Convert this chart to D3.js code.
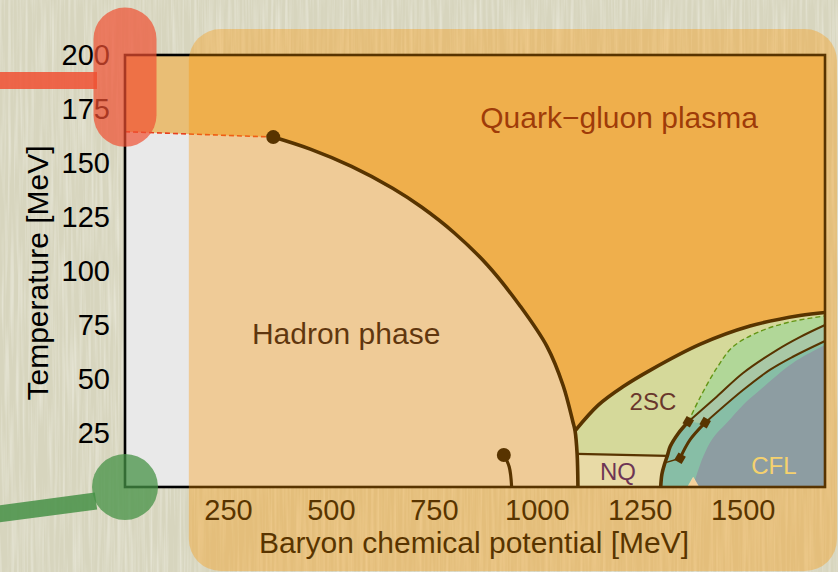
<!DOCTYPE html>
<html>
<head>
<meta charset="utf-8">
<script src="https://cdn.jsdelivr.net/npm/d3@7"></script>
<style>
  html, body { margin: 0; padding: 0; background: #d8d6c0; }
  svg { display: block; }
</style>
</head>
<body>
<svg id="chart" width="838" height="572"></svg>
<script>
// ---- axis ticks ----
const muTicks = [250, 500, 750, 1000, 1250, 1500];
const tempTicks = [25, 50, 75, 100, 125, 150, 175, 200];

// ---- phase boundaries, [mu (MeV), T (MeV)] ----
const crossover = [[0, 164.5], [360, 162]];
const criticalPoint = [360, 162];
const hadronBoundary = [[360, 162], [450, 156.4], [550, 148.4], [650, 138.3], [720, 129.6],
  [800, 117.6], [880, 102.8], [960, 83.7], [1025, 65], [1064, 47], [1088, 30],
  [1093, 26], [1098, 15.3], [1100, 0]];
const liquidGas = [[920, 14.8], [933, 9.4], [939, 0]];
const nuclearEndpoint = [920, 14.8];
const outerCSC = [[1093, 26], [1150, 38], [1210, 46.5], [1275, 54], [1396, 66],
  [1518, 74.5], [1639, 79.4], [1700, 80.8]];
const nqTop = [[1098, 15.3], [1317, 14.4]];
const innerCSC = [[1301, 0], [1304, 6], [1311, 11], [1317, 14.4], [1324, 18.7],
  [1344, 24.9], [1368, 30.2]];
const gapless = [[1368, 30.2], [1396, 41.2], [1437, 55], [1477, 65], [1542, 72],
  [1615, 76.4], [1700, 79.2]];
const lineA = [[1368, 30.2], [1437, 41.8], [1501, 52.8], [1583, 63.4], [1639, 69.4], [1700, 75]];
const lineB = [[1409, 29.8], [1501, 44.9], [1566, 54.2], [1622, 60.3], [1700, 67.6]];
const lineBLower = [[1409, 29.8], [1372, 21.8], [1348, 13.3]];
const lineBLink = [[1348, 13.3], [1311, 11.2]];
const cflEdge = [[1379, 0], [1404, 14], [1428, 22.7], [1461, 29.6], [1501, 38], [1542, 44.9],
  [1622, 57.4], [1700, 65.7]];
const junctions = [[1368, 30.2], [1409, 29.8], [1348, 13.3]];
const cflOnset = [1380, 0];

// ---- region labels ----
const regionLabels = [
  { text: "Quark\u2212gluon plasma", mu: 1200, T: 166, kind: "qgp" },
  { text: "Hadron phase", mu: 537, T: 66, kind: "hadron" },
  { text: "2SC", mu: 1282, T: 35.5, kind: "tsc" },
  { text: "NQ", mu: 1197, T: 3.4, kind: "nq" },
  { text: "CFL", mu: 1576, T: 6, kind: "cfl" }
];

// ---- layout ----
const W = 838, H = 572;
const frame = { left: 125, right: 825, top: 55, bottom: 487 };
const x = d3.scaleLinear().domain([0, 1700]).range([frame.left, frame.right]);
const y = d3.scaleLinear().domain([0, 200]).range([frame.bottom, frame.top]);

// ink colours sit beneath a translucent amber highlight
const HIGHLIGHT = "rgba(253,150,0,0.35)";
const colors = {
  hadron: "#e9e9e9",
  qgp: "#e9be75",
  tsc: "#c1fded",
  nq: "#ddffff",
  green: "#89fbea",
  mid: "#7de3ff",
  teal: "#49d5ff",
  cfl: "#52a2f9",
  ink: "#000000",
  crossover: "#e8401e",
  gapless: "#129620",
  labels: { qgp: "#6e0c0f", hadron: "#0c0418", tsc: "#190445", nq: "#210083", cfl: "#f1f2a9" }
};

const svg = d3.select("#chart");

// paper background with faint vertical grain
const defs = svg.append("defs");
const grain = defs.append("filter").attr("id", "grain").attr("x", 0).attr("y", 0)
  .attr("width", 1).attr("height", 1);
grain.append("feTurbulence").attr("type", "fractalNoise")
  .attr("baseFrequency", "0.35 0.012").attr("numOctaves", 2).attr("seed", 4);
grain.append("feColorMatrix").attr("type", "matrix")
  .attr("values", "0 0 0 0 1  0 0 0 0 1  0 0 0 0 0.97  0.8 0 0 0 -0.32");
svg.append("rect").attr("width", W).attr("height", H).attr("fill", "#d7d5be");
svg.append("rect").attr("width", W).attr("height", H).attr("filter", "url(#grain)");

// path helpers
const smooth = d3.line().x(d => x(d[0])).y(d => y(d[1])).curve(d3.curveCatmullRom.alpha(0.5));
const straight = d3.line().x(d => x(d[0])).y(d => y(d[1]));
const rev = a => a.slice().reverse();
function region(...parts) {
  return parts.map((p, i) => {
    const s = (p.curved ? smooth : straight)(p.pts);
    return i ? s.replace(/^M/, "L") : s;
  }).join("") + "Z";
}
const C = pts => ({ pts, curved: true });
const S = pts => ({ pts, curved: false });

const plot = svg.append("g");

// quark-gluon plasma fills the frame, other phases are laid over it
plot.append("rect").attr("x", x(0)).attr("y", y(200))
  .attr("width", x(1700) - x(0)).attr("height", y(0) - y(200)).attr("fill", colors.qgp);

plot.append("path").attr("fill", colors.hadron)
  .attr("d", region(S(crossover), C(hadronBoundary), S([[1100, 0], [0, 0]])));

const last = outerCSC[outerCSC.length - 1];
plot.append("path").attr("fill", colors.tsc)
  .attr("d", region(C(outerCSC), S([last, [1700, 0], [1100, 0]]), C(rev(hadronBoundary.slice(-3)))));

plot.append("path").attr("fill", colors.nq)
  .attr("d", region(S(nqTop), C(rev(innerCSC.slice(0, 4))), S([[1301, 0], [1100, 0]])));

plot.append("path").attr("fill", colors.teal)
  .attr("d", region(C(innerCSC), S([junctions[0], junctions[1]]), C(lineB),
    S([lineB[lineB.length - 1], [1700, 0]])));

plot.append("path").attr("fill", colors.mid)
  .attr("d", region(C(lineA), S([lineA[lineA.length - 1], lineB[lineB.length - 1]]), C(rev(lineB))));

plot.append("path").attr("fill", colors.green)
  .attr("d", region(C(gapless), S([gapless[gapless.length - 1], lineA[lineA.length - 1]]), C(rev(lineA))));

plot.append("path").attr("fill", colors.cfl)
  .attr("d", region(C(cflEdge), S([cflEdge[cflEdge.length - 1], [1700, 0]])));

// boundary lines
const strokeLine = (pts, w, opts = {}) => plot.append("path")
  .attr("d", (opts.straight ? straight : smooth)(pts)).attr("fill", "none")
  .attr("stroke", opts.color || colors.ink).attr("stroke-width", w)
  .attr("stroke-dasharray", opts.dash || null).attr("stroke-linecap", opts.cap || "butt");

strokeLine(crossover, 1.6, { straight: true, color: colors.crossover, dash: "5,3" });
strokeLine(hadronBoundary, 3.6);
strokeLine(liquidGas, 3.2);
strokeLine(outerCSC, 3.6);
strokeLine(nqTop, 2.2, { straight: true });
strokeLine(innerCSC, 3.6);
strokeLine(gapless, 1.4, { color: colors.gapless, dash: "5,3" });
strokeLine(lineA, 2);
strokeLine(lineB, 2);
strokeLine(lineBLower, 3);
strokeLine(lineBLink, 1.4, { straight: true });

plot.selectAll("path.junction").data(junctions).join("path").attr("class", "junction")
  .attr("d", d3.symbol(d3.symbolSquare, 72))
  .attr("transform", d => `translate(${x(d[0])},${y(d[1])}) rotate(30)`)
  .attr("fill", colors.ink);

plot.selectAll("circle.endpoint").data([criticalPoint, nuclearEndpoint]).join("circle")
  .attr("class", "endpoint").attr("cx", d => x(d[0])).attr("cy", d => y(d[1]))
  .attr("r", 7).attr("fill", colors.ink);

plot.append("path").attr("d", d3.symbol(d3.symbolTriangle, 48))
  .attr("transform", `translate(${x(cflOnset[0])},${y(cflOnset[1]) - 3.5})`)
  .attr("fill", "#f2f2ee").attr("stroke", "#ffffff").attr("stroke-width", 0.8);

// region names
plot.selectAll("text.region").data(regionLabels).join("text").attr("class", "region")
  .attr("x", d => x(d.mu)).attr("y", d => y(d.T))
  .attr("text-anchor", "middle")
  .attr("font-family", "'Liberation Sans', Arial, Helvetica, sans-serif")
  .attr("font-size", d => (d.kind === "qgp" || d.kind === "hadron") ? 30 : 24)
  .attr("fill", d => colors.labels[d.kind])
  .text(d => d.text);

// frame
plot.append("rect").attr("x", frame.left).attr("y", frame.top)
  .attr("width", frame.right - frame.left).attr("height", frame.bottom - frame.top)
  .attr("fill", "none").attr("stroke", colors.ink).attr("stroke-width", 2.6);

// axes
const font = "'Liberation Sans', Arial, Helvetica, sans-serif";
const xAxis = svg.append("g").attr("transform", `translate(0,${frame.bottom})`)
  .call(d3.axisBottom(x).tickValues(muTicks).tickSize(0).tickPadding(12).tickFormat(d3.format("d")));
const yAxis = svg.append("g").attr("transform", `translate(${frame.left},0)`)
  .call(d3.axisLeft(y).tickValues(tempTicks).tickSize(0).tickPadding(15).tickFormat(d3.format("d")));
[xAxis, yAxis].forEach(g => {
  g.select(".domain").remove();
  g.selectAll("text").attr("font-family", font).attr("font-size", 29).attr("fill", "#000");
});
xAxis.selectAll("text").attr("dy", "0.71em");

svg.append("text").attr("x", (frame.left + frame.right) / 2 - 1).attr("y", 553)
  .attr("text-anchor", "middle").attr("font-family", font).attr("font-size", 30)
  .attr("fill", "#000").text("Baryon chemical potential [MeV]");
svg.append("text").attr("transform", `translate(48,${y(100) + 2}) rotate(-90)`)
  .attr("text-anchor", "middle").attr("font-family", font).attr("font-size", 30)
  .attr("fill", "#000").text("Temperature [MeV]");

// highlights: amber panel over the dense-matter side, red pill on the
// crossover temperatures, green disc at the origin
const panelLeft = x(155);
svg.append("rect").attr("x", panelLeft).attr("y", 29)
  .attr("width", 837 - panelLeft).attr("height", 571 - 29)
  .attr("rx", 32).attr("ry", 32).attr("fill", HIGHLIGHT);

svg.append("rect").attr("x", 0).attr("y", 72).attr("width", 97).attr("height", 17)
  .attr("fill", "rgba(240,80,50,0.85)");
const pillTop = y(222), pillBottom = y(157.5);
svg.append("rect").attr("x", x(0) - 31.5).attr("y", pillTop).attr("width", 63)
  .attr("height", pillBottom - pillTop).attr("rx", 31.5).attr("ry", 31.5)
  .attr("fill", "rgba(240,80,50,0.7)");

svg.append("line").attr("x1", -2).attr("y1", 514).attr("x2", 96).attr("y2", 501)
  .attr("stroke", "rgba(70,145,70,0.85)").attr("stroke-width", 17);
svg.append("circle").attr("cx", x(0)).attr("cy", y(0)).attr("r", 33)
  .attr("fill", "rgba(70,145,70,0.75)");
</script>
</body>
</html>
